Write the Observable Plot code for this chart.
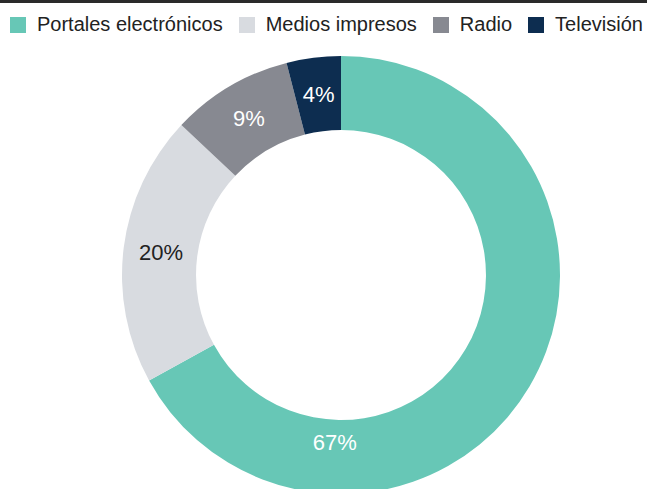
<!DOCTYPE html>
<html>
<head>
<meta charset="utf-8">
<script src="https://cdn.jsdelivr.net/npm/d3@7"></script>
<script src="https://cdn.jsdelivr.net/npm/@observablehq/plot@0.6"></script>
<style>
  html, body { margin: 0; padding: 0; background: #fff; width: 647px; height: 489px; overflow: hidden; }
  body { position: relative; font-family: "Liberation Sans", Arial, sans-serif; }
  #topline { position: absolute; left: 0; top: 0; width: 647px; height: 3px; background: #2a2a2a; }
  #legend { position: absolute; left: 10px; top: 8px; width: 660px; white-space: nowrap; }
  #legend > div { flex-wrap: nowrap !important; white-space: nowrap !important; }
  #legend .lg-swatch { white-space: nowrap !important; margin-right: 16px !important; }
  #legend .lg-swatch > svg { margin-right: 11px !important; }
  #chart { position: absolute; left: 0; top: 44px; }
</style>
</head>
<body>
<div id="topline"></div>
<div id="legend"></div>
<div id="chart"></div>
<script>
const categories = ["Portales electrónicos", "Medios impresos", "Radio", "Televisión"];
const shares = [67, 20, 9, 4];
const colors = ["#67c7b6", "#d8dbe0", "#878991", "#0d2d50"];
const labelDark = [false, true, false, false];

const data = categories.map((c, i) => ({category: c, share: shares[i], dark: labelDark[i], index: i}));

const INNER = 0.662;   // inner radius relative to outer
const MID = (1 + INNER) / 2;

// pie angles (clockwise from 12 o'clock)
const pie = d3.pie().sort(null).value(d => d.share)(data);
pie.forEach(a => {
  const d = a.data;
  if (d.index === 0) { d.la = Math.PI * 1.013; d.lr = 0.763; }
  else { d.la = (a.startAngle + a.endAngle) / 2; d.lr = MID; }
});

function renderDonut(index, scales, values) {
  const cx = scales.x(0), cy = scales.y(0);
  const R = scales.x(1) - cx;
  const arcs = d3.pie().sort(null).value(i => data[i].share)(index);
  const g = d3.create("svg:g");
  g.selectAll("path").data(arcs).join("path")
    .attr("transform", `translate(${cx},${cy})`)
    .attr("d", d3.arc().innerRadius(R * INNER).outerRadius(R))
    .attr("fill", a => values.fill[a.data]);
  return g.node();
}

const colorOpts = {domain: categories, range: colors};

const chart = Plot.plot({
  width: 647,
  height: 450,
  marginLeft: 122,
  marginRight: 87,
  marginTop: 12,
  marginBottom: 0,
  x: {domain: [-1, 1], axis: null},
  y: {domain: [-1, 1], axis: null},
  color: colorOpts,
  style: {fontFamily: "'Liberation Sans', Arial, sans-serif", background: "#fff", overflow: "visible"},
  marks: [
    Plot.dot(data, {x: d => 0, y: d => 0, fill: "category", render: renderDonut}),
    Plot.text(data, {
      filter: d => !d.dark,
      x: d => d.lr * Math.sin(d.la), y: d => d.lr * Math.cos(d.la),
      text: d => d.share + "%", fill: "#ffffff", fontSize: 22
    }),
    Plot.text(data, {
      filter: d => d.dark,
      x: d => d.lr * Math.sin(d.la), y: d => d.lr * Math.cos(d.la),
      text: d => d.share + "%", fill: "#222222", fontSize: 22
    })
  ]
});
document.getElementById("chart").appendChild(chart);

const legend = Plot.legend({
  color: {...colorOpts, type: "ordinal"},
  legend: "swatches",
  swatchSize: 16,
  className: "lg",
  style: {fontFamily: "'Liberation Sans', Arial, sans-serif", fontSize: "20px", color: "#222"}
});
document.getElementById("legend").appendChild(legend);
</script>
</body>
</html>
